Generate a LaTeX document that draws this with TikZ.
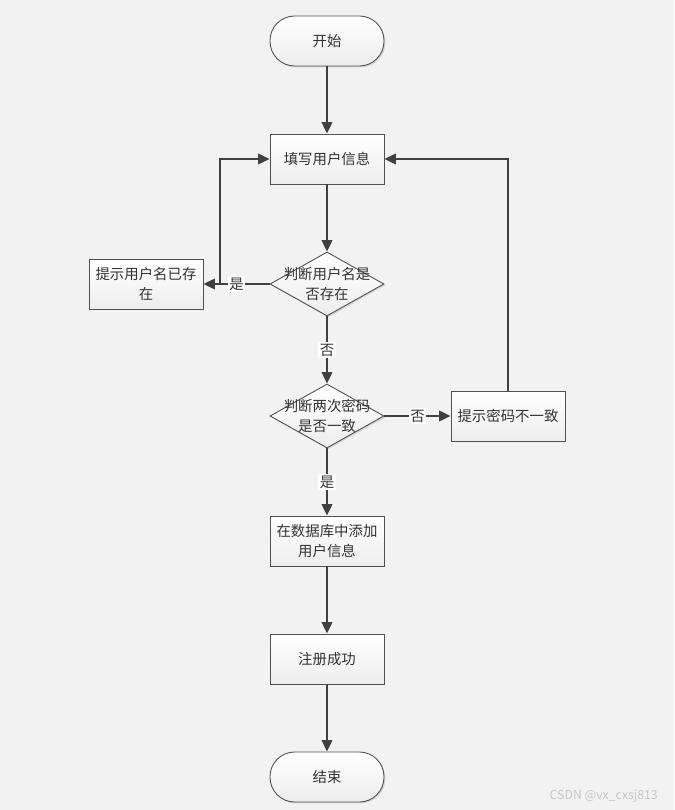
\documentclass[tikz,border=0pt]{standalone}
\usepackage{fontspec}
\setmainfont{Noto Sans CJK SC}
\usetikzlibrary{arrows.meta,shapes.geometric,shadows}
\definecolor{bggray}{HTML}{F2F2F2}
\definecolor{linegray}{HTML}{404040}
\definecolor{edgegray}{HTML}{505050}
\definecolor{txtgray}{HTML}{333333}
\tikzset{
  base/.style={draw=edgegray, line width=0.5pt, top color=white, bottom color=gray!14,
    text=txtgray, font=\fontsize{8.2}{11}\selectfont, align=center,
    drop shadow={shadow xshift=0.8pt, shadow yshift=-0.8pt, opacity=0.25}},
  box/.style={base, rectangle, minimum width=2.28cm, minimum height=1cm, inner sep=1pt},
  term/.style={box, rounded corners=14pt},
  dec/.style={base, diamond, minimum width=2.28cm, minimum height=1.28cm, inner sep=0pt},
  dectext/.style={align=center, text=txtgray, font=\fontsize{8.2}{11}\selectfont},
  flow/.style={draw=linegray, line width=1pt, -{Triangle[length=6.5pt,width=6pt]}},
  lbl/.style={fill=white, inner sep=0.8pt, text=txtgray, font=\fontsize{8.2}{9}\selectfont}
}
\begin{document}
\begin{tikzpicture}[x=0.02cm, y=-0.02cm]
  % Background and bounding box
  \fill[bggray] (0,0) rectangle (674,810);
  \useasboundingbox (0,0) rectangle (674,810);
  % Nodes
  \node[term] (start) at (327,41) {开始};
  \node[box] (fill) at (327,159) {填写用户信息};
  \node[dec, label={[dectext]center:判断用户名是\\否存在}] (d1) at (327,284) {};
  \node[box] (nameinfo) at (146,284) {提示用户名已存\\在};
  \node[dec, label={[dectext]center:判断两次密码\\是否一致}] (d2) at (327,416) {};
  \node[box] (pwinfo) at (508,416) {提示密码不一致};
  \node[box] (db) at (327,541) {在数据库中添加\\用户信息};
  \node[box] (ok) at (327,659) {注册成功};
  \node[term] (end) at (327,777) {结束};
  \coordinate (j1) at (220,284);
  % Connectors
  \draw[flow] (start) -- (fill);
  \draw[flow] (fill) -- (d1);
  \draw[flow] (d1) -- node[lbl]{是} (nameinfo);
  \draw[flow] (j1) |- (fill.west);
  \draw[flow] (d1) -- node[lbl]{否} (d2);
  \draw[flow] (d2) -- node[lbl]{否} (pwinfo);
  \draw[flow] (pwinfo.north) |- (fill.east);
  \draw[flow] (d2) -- node[lbl]{是} (db);
  \draw[flow] (db) -- (ok);
  \draw[flow] (ok) -- (end);
  % Watermark
  \node[text=gray!45, font=\fontsize{7}{8}\selectfont, anchor=east] (mark) at (664,796) {CSDN @vx\_cxsj813};
\end{tikzpicture}
\end{document}
